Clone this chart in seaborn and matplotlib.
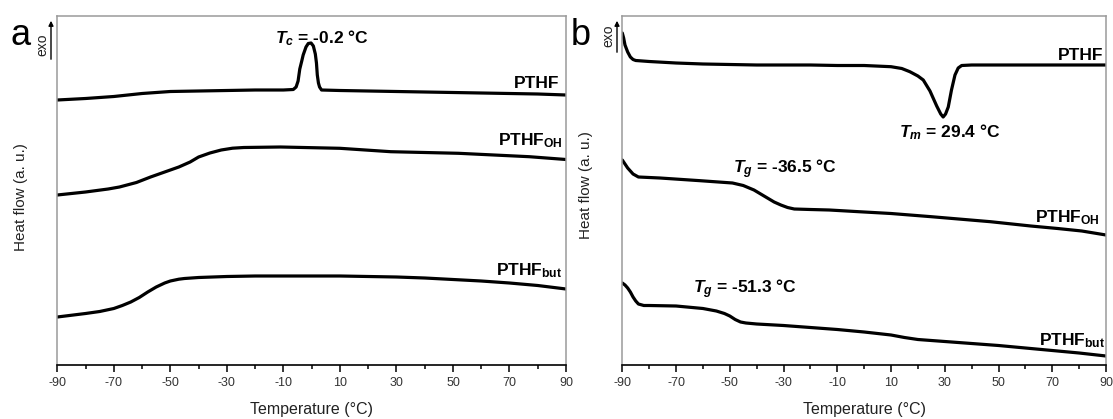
import numpy as np
import pandas as pd
import matplotlib
matplotlib.use("Agg")
import matplotlib.pyplot as plt
from matplotlib.ticker import MultipleLocator
import seaborn as sns

# ---------------- data (temperature in °C, heat flow in arbitrary units) ----------------
a_pthf_T = [-90, -80, -70, -60, -50, -40, -30, -20, -10, -6.5, -5.5, -4.8, -4.2, -3.5, -3, -2, -1.2, -0.2,
            0.6, 1.3, 1.7, 2, 2.4, 2.8, 3.5, 10, 20, 30, 40, 50, 60, 70, 80, 90]
a_pthf_H = [265, 266.5, 268.5, 271.5, 273.5, 274, 274.5, 275, 275, 275.5, 278, 284, 296, 304, 310, 318, 321.5, 322,
            319, 311, 302, 290, 282, 278, 275, 274.5, 274, 273.5, 273, 272.5, 272, 271.5, 271, 270]

a_oh_T = [-90, -80, -72, -68, -62, -57, -52, -47, -43, -40, -36, -32, -28, -24, -11, 10, 28, 52, 77, 90]
a_oh_H = [170, 173, 176, 178, 182.5, 188, 193, 198, 203, 208, 212, 215, 216.8, 217.5, 218, 216.7, 213.3, 211.7, 208.3, 205.5]

a_but_T = [-90, -80, -75, -70, -67, -64, -61, -58, -55, -52, -50, -47, -45, -40, -30, -20, -10, 0, 10, 20, 30, 40,
           50, 60, 70, 80, 90]
a_but_H = [48, 51.5, 53.5, 56.5, 59.5, 63, 67.5, 73, 78, 82, 84, 85.8, 86.5, 87.5, 88.5, 89, 89, 89, 89, 88.5, 88, 87,
           85.5, 84, 82, 79.5, 76]

b_pthf_T = [-90, -89.5, -89, -88, -87, -86, -85, -80, -70, -60, -50, -40, -30, -20, -10, 0, 10, 14, 17, 20, 22,
            24.5, 27, 28.5, 29.4, 30.3, 31.3, 32.5, 33.8, 35, 36.3, 40, 50, 60, 70, 80, 90]
b_pthf_H = [332, 327, 320, 313, 308, 305.5, 304.5, 303.5, 302, 301, 300.5, 300, 300, 300, 299.5, 299.5, 298.3, 296.5, 293.3, 289, 285,
            274, 259, 251, 248, 251, 258, 275, 290, 297, 299.5, 300, 300, 300, 300, 300, 300]

b_oh_T = [-90, -89, -88, -87, -86, -84, -76, -61, -49, -45, -41, -38.5, -36, -33.5, -31, -28.5, -26, -20, -13, -2,
          10, 25, 47, 62, 72, 81, 90]
b_oh_H = [205, 201, 197, 194, 191, 188, 187, 184.3, 182, 179.5, 175, 171, 167, 163, 160, 157.5, 156, 155.5, 155, 153.3,
          151.5, 148.3, 143.3, 139, 136.5, 134, 130]

b_but_T = [-90, -89, -88, -87, -86, -85, -84, -82, -80, -70, -60, -55, -52, -50, -48, -46, -44, -40, -30, -20, -10, 0,
           10, 15, 20, 30, 40, 50, 60, 70, 80, 90]
b_but_H = [82, 80, 77, 73, 68, 64, 61, 59.5, 59.5, 59, 56.5, 54, 51.5, 49, 45.5, 43, 42, 41, 39.5, 37.5, 35.5, 33,
           30, 27.5, 25.5, 23.5, 21.5, 19.5, 17, 14.5, 12, 9]

x_ticks = [-90, -70, -50, -30, -10, 10, 30, 50, 70, 90]

# ---------------- style ----------------
sns.set_theme(style="white")
plt.rcParams["font.family"] = ["Liberation Sans", "DejaVu Sans"]
plt.rcParams["mathtext.fontset"] = "custom"
plt.rcParams["mathtext.rm"] = "Liberation Sans"
plt.rcParams["mathtext.it"] = "Liberation Sans:italic"
plt.rcParams["mathtext.bf"] = "Liberation Sans:bold"
plt.rcParams["mathtext.bfit"] = "Liberation Sans:italic:bold"

W, H = 1113, 419
fig = plt.figure(figsize=(W / 100, H / 100), dpi=100)

def px_axes(x0, x1, ytop, ybot):
    return [x0 / W, 1 - ybot / H, (x1 - x0) / W, (ybot - ytop) / H]

ax_a = fig.add_axes(px_axes(57.3, 566, 16, 365))
ax_b = fig.add_axes(px_axes(622.3, 1106, 16, 365))

def draw(ax, T, Hf):
    df = pd.DataFrame({"T": T, "H": Hf})
    sns.lineplot(data=df, x="T", y="H", ax=ax, sort=False, estimator=None,
                 color="black", linewidth=2.3)

draw(ax_a, a_pthf_T, a_pthf_H)
draw(ax_a, a_oh_T, a_oh_H)
draw(ax_a, a_but_T, a_but_H)
draw(ax_b, b_pthf_T, b_pthf_H)
draw(ax_b, b_oh_T, b_oh_H)
draw(ax_b, b_but_T, b_but_H)

for ax in (ax_a, ax_b):
    ax.set_xlim(-90, 90)
    ax.set_ylim(0, 349)
    ax.set_xticks(x_ticks)
    ax.set_xticklabels([str(t) for t in x_ticks])
    ax.xaxis.set_minor_locator(MultipleLocator(10))
    ax.set_yticks([])
    ax.tick_params(axis="x", which="both", bottom=True, direction="out", color="black",
                   width=1.1, labelsize=9, labelcolor="#333333", pad=3.5)
    ax.tick_params(axis="x", which="major", length=5)
    ax.tick_params(axis="x", which="minor", length=2.8)
    for s in ("left", "top", "right"):
        ax.spines[s].set_color("#9a9a9a")
        ax.spines[s].set_linewidth(1.1)
    ax.spines["bottom"].set_color("black")
    ax.spines["bottom"].set_linewidth(1.2)
    ax.set_xlabel("Temperature (°C)", fontsize=11.5, color="#222222")
    ax.set_ylabel("Heat flow (a. u.)", fontsize=11, color="#222222")
    ax.xaxis.set_label_coords(0.5, -0.105)

ax_a.yaxis.set_label_coords(-0.058, 0.48)
ax_b.yaxis.set_label_coords(-0.061, 0.515)

fs = 12.5
tk = dict(fontsize=fs, fontweight="bold", va="baseline", color="black")
# panel a annotations
ax_a.text(-12.8, 322, r"$\mathbfit{T}_{\mathbfit{c}}$ = -0.2 °C", ha="left", **tk)
ax_a.text(87.6, 277, "PTHF", ha="right", **tk)
ax_a.text(89, 220, r"PTHF$_{\mathbf{OH}}$", ha="right", **tk)
ax_a.text(88.6, 90, r"PTHF$_{\mathbf{but}}$", ha="right", **tk)

# panel b annotations
ax_b.text(89.2, 305, "PTHF", ha="right", **tk)
ax_b.text(13, 228, r"$\mathbfit{T}_{\mathbfit{m}}$ = 29.4 °C", ha="left", **tk)
ax_b.text(-48.7, 192, r"$\mathbfit{T}_{\mathbfit{g}}$ = -36.5 °C", ha="left", **tk)
ax_b.text(87.8, 143, r"PTHF$_{\mathbf{OH}}$", ha="right", **tk)
ax_b.text(-63.6, 72, r"$\mathbfit{T}_{\mathbfit{g}}$ = -51.3 °C", ha="left", **tk)
ax_b.text(89.8, 20, r"PTHF$_{\mathbf{but}}$", ha="right", **tk)

# panel letters
fig.text(11 / W, 1 - 45 / H, "a", fontsize=26, va="baseline", ha="left", color="black")
fig.text(571 / W, 1 - 45 / H, "b", fontsize=26, va="baseline", ha="left", color="black")

# exo markers
for xt, yt, xa, ya0, ya1 in ((42.5, 44.5, 51, 62, 18), (608, 36, 617, 55, 18)):
    fig.text(xt / W, 1 - yt / H, "exo", fontsize=10, rotation=90, va="center", ha="center", color="#222222")
    fig.add_artist(matplotlib.patches.FancyArrowPatch(
        (xa / W, 1 - ya0 / H), (xa / W, 1 - ya1 / H), transform=fig.transFigure,
        arrowstyle="-|>", mutation_scale=7, color="black", linewidth=1.0))

fig.savefig("out.png", dpi=100)
